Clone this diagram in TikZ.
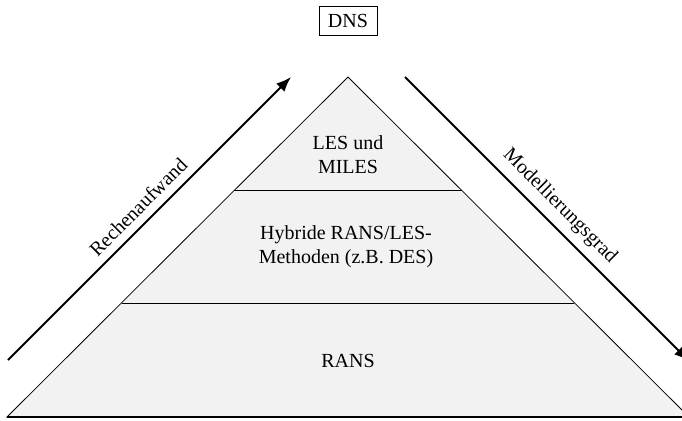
\documentclass[tikz,border=0pt]{standalone}
\usepackage{fontspec}
\setmainfont{Liberation Serif}
\usetikzlibrary{arrows.meta}
\begin{document}
\begin{tikzpicture}[x=0.5pt,y=-0.5pt,
  pyr/.style={fill=gray!10, draw=black, line width=0.4pt},
  layerline/.style={draw=black, line width=0.5pt},
  lbl/.style={font=\fontsize{10}{12}\selectfont, align=center, inner sep=0pt},
  bigarrow/.style={-{Latex[length=7.5pt,width=5.8pt]}, line width=0.9pt},
  arrowlbl/.style={lbl, sloped, above=4pt},
  dnsbox/.style={lbl, draw=black, line width=0.5pt, minimum width=29pt, minimum height=14.5pt}
  ]
\useasboundingbox (0,0) rectangle (682,420);
\clip (0,0) rectangle (682,420);
% pyramid geometry
\coordinate (apex) at (348,77);
\coordinate (bl) at (7,417);
\coordinate (br) at (689,417);
\coordinate (l1) at (234.3,190.7);
\coordinate (r1) at (461.7,190.7);
\coordinate (l2) at (122,303);
\coordinate (r2) at (574,303);
\filldraw[pyr] (apex) -- (bl) -- (br) -- cycle;
\draw[line width=0.6pt] (bl) -- (br);
\draw[layerline] (l1) -- (r1);
\draw[layerline] (l2) -- (r2);
% labels
\node[lbl] (les) at (348,155) {LES und\\MILES};
\node[lbl] (hyb) at (346,247) {Hybride RANS/LES-\\Methoden (z.B. DES)};
\node[lbl] (rans) at (348,361) {RANS};
\node[dnsbox] (dns) at (348,20.5) {DNS};
% arrows
\coordinate (la0) at (8,360);
\coordinate (la1) at (291,77);
\coordinate (ra0) at (405,77);
\coordinate (ra1) at (689,361);
\draw[bigarrow] (la0) -- node[arrowlbl] (lablA) {Rechenaufwand} (la1);
\draw[bigarrow] (ra0) -- node[arrowlbl] (lablB) {Modellierungsgrad} (ra1);
\end{tikzpicture}
\end{document}
